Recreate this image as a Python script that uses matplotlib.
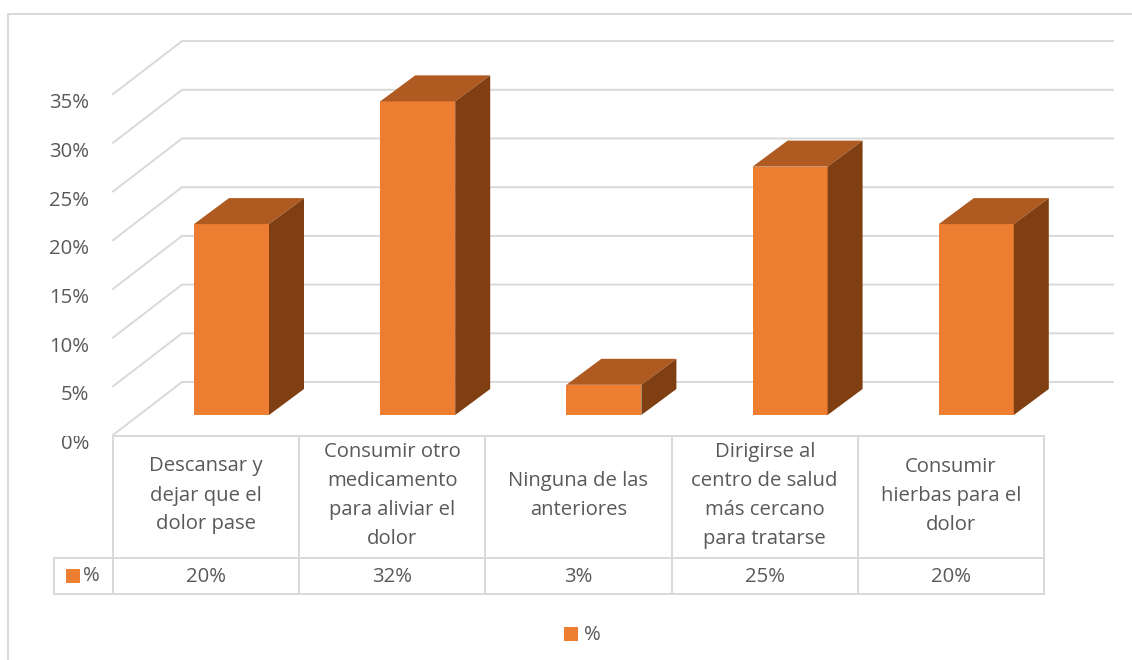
#!/usr/bin/env python3
"""3D-look bar chart with data table, drawn on a pixel-sized canvas."""

import matplotlib

matplotlib.use("Agg")
import matplotlib.pyplot as plt
from matplotlib.patches import Polygon, Rectangle

categories = [
    "Descansar y\ndejar que el\ndolor pase",
    "Consumir otro\nmedicamento\npara aliviar el\ndolor",
    "Ninguna de las\nanteriores",
    "Dirigirse al\ncentro de salud\nmás cercano\npara tratarse",
    "Consumir\nhierbas para el\ndolor",
]
values = [19.6, 32.2, 3.1, 25.5, 19.6]
value_labels = ["20%", "32%", "3%", "25%", "20%"]
y_ticks = [0, 5, 10, 15, 20, 25, 30, 35]
series_name = "%"

GRID = "#d9d9d9"
TEXT = "#595959"
FRONT = "#ed7d31"
TOP = "#ae5a21"
SIDE = "#7f3f12"
FONT = "Open Sans"
FS = 14.6

# canvas geometry, in pixels
X0 = 113
COL_W = 186.2
Y_ZERO = 435
PX_PER_PCT = 9.74
DX, DY = 69, -53
BAR_W = 75
BAR_LEFT = 81
BAR_BASE = 415
BAR_DX, BAR_DY = 35, -26
ROW_SEP = 558
TABLE_BOTTOM = 594
KEY_LEFT = 54
GRID_RIGHT = 1113


def line(ax, xs, ys, lw=1.4, z=1):
    ax.plot(xs, ys, color=GRID, lw=lw, solid_capstyle="projecting", zorder=z)


def main() -> None:
    fig = plt.figure(figsize=(11.32, 6.6), dpi=100)
    ax = fig.add_axes([0, 0, 1, 1])
    ax.set_xlim(0, 1132)
    ax.set_ylim(660, 0)
    ax.axis("off")

    # outer chart border, cropped at the picture edge
    line(ax, [8, 8], [660, 14])
    line(ax, [8, 1132], [14, 14])

    # walls and gridlines
    for t in y_ticks:
        y = Y_ZERO - t * PX_PER_PCT
        line(ax, [X0, X0 + DX, GRID_RIGHT], [y, y + DY, y + DY])
        ax.text(89, y + 9, f"{t}%", ha="right", va="center", color=TEXT,
                family=FONT, fontsize=FS, zorder=2)
    # the 0% label is cut off along its top edge in the original
    ax.add_patch(Rectangle((60, Y_ZERO - 8), 32, 9, fc="white", ec="none", zorder=2.5))

    # bars
    for i, v in enumerate(values):
        left = X0 + BAR_LEFT + i * COL_W
        right = left + BAR_W
        h = v * PX_PER_PCT
        top = BAR_BASE - h
        ax.add_patch(Rectangle((left, top), BAR_W, h, fc=FRONT, ec="none", zorder=3))
        ax.add_patch(Polygon(
            [(left, top), (right, top), (right + BAR_DX, top + BAR_DY), (left + BAR_DX, top + BAR_DY)],
            fc=TOP, ec="none", zorder=3))
        ax.add_patch(Polygon(
            [(right, top), (right + BAR_DX, top + BAR_DY),
             (right + BAR_DX, BAR_BASE + BAR_DY), (right, BAR_BASE)],
            fc=SIDE, ec="none", zorder=3))

    # data table
    n = len(categories)
    x_right = X0 + n * COL_W
    line(ax, [X0, x_right], [Y_ZERO + 1, Y_ZERO + 1])
    line(ax, [KEY_LEFT, x_right], [ROW_SEP, ROW_SEP])
    line(ax, [KEY_LEFT, x_right], [TABLE_BOTTOM, TABLE_BOTTOM])
    line(ax, [KEY_LEFT, KEY_LEFT], [ROW_SEP, TABLE_BOTTOM])
    for i in range(n + 1):
        x = X0 + i * COL_W
        line(ax, [x, x], [Y_ZERO + 1, TABLE_BOTTOM])

    for i, (cat, lab) in enumerate(zip(categories, value_labels)):
        xc = X0 + (i + 0.5) * COL_W
        ax.text(xc, (Y_ZERO + ROW_SEP) / 2 - 1, cat, ha="center", va="center",
                color=TEXT, family=FONT, fontsize=FS, linespacing=1.6)
        ax.text(xc, (ROW_SEP + TABLE_BOTTOM) / 2 + 1, lab, ha="center", va="center",
                color=TEXT, family=FONT, fontsize=FS)

    # series key in the table and the legend below
    ax.add_patch(Rectangle((66, 569), 14, 14, fc=FRONT, ec="none", zorder=3))
    ax.text(83, 576, series_name, ha="left", va="center", color=TEXT, family=FONT, fontsize=FS)
    ax.add_patch(Rectangle((564, 627), 14, 14, fc=FRONT, ec="none", zorder=3))
    ax.text(584, 635, series_name, ha="left", va="center", color=TEXT, family=FONT, fontsize=FS)

    fig.savefig("out.png", dpi=100)
    plt.close(fig)


if __name__ == "__main__":
    main()
